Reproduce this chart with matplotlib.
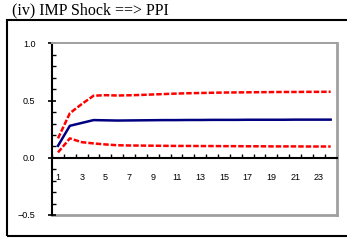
import matplotlib
matplotlib.use('Agg')
import matplotlib.pyplot as plt
from matplotlib.patches import Rectangle
from matplotlib.ticker import MultipleLocator, FixedLocator, FixedFormatter

# impulse response of PPI to IMP shock, periods 1..24
periods = list(range(1, 25))
response = [0.105, 0.28, 0.305, 0.33, 0.328, 0.326, 0.327, 0.328, 0.329, 0.33,
            0.33, 0.331, 0.331, 0.332, 0.332, 0.332, 0.333, 0.333, 0.333, 0.333,
            0.334, 0.334, 0.334, 0.334]
upper = [0.17, 0.39, 0.47, 0.543, 0.548, 0.545, 0.547, 0.55, 0.554, 0.558,
         0.562, 0.565, 0.567, 0.569, 0.571, 0.572, 0.573, 0.574, 0.575, 0.576,
         0.576, 0.577, 0.577, 0.578]
lower = [0.047, 0.17, 0.137, 0.126, 0.117, 0.11, 0.108, 0.107, 0.106, 0.105,
         0.104, 0.104, 0.103, 0.103, 0.102, 0.102, 0.101, 0.101, 0.1, 0.1,
         0.1, 0.099, 0.099, 0.099]
xlabels = [str(p) if p % 2 == 1 else '' for p in periods]
title = '(iv) IMP Shock ==> PPI'

plt.rcParams['font.family'] = ['Liberation Sans', 'DejaVu Sans']

fig = plt.figure(figsize=(3.47, 2.40), dpi=100)
ax = fig.add_axes([0.150, 0.1042, 0.820, 0.7146])

ax.plot(periods, upper, color='#ff0000', lw=1.8, ls=(0, (2.2, 0.8)))
ax.plot(periods, lower, color='#ff0000', lw=1.8, ls=(0, (2.2, 0.8)))
ax.plot(periods, response, color='#000080', lw=1.8)

ax.set_xlim(0.5, 24.5)
ax.set_ylim(-0.5, 1.0)

# frame: gray box, black y axis, x axis at zero
ax.spines['top'].set_color('#a0a0a0')
ax.spines['top'].set_linewidth(1.4)
ax.spines['right'].set_color('#a0a0a0')
ax.spines['right'].set_linewidth(2.0)
ax.spines['left'].set_color('black')
ax.spines['left'].set_linewidth(1.5)
ax.spines['bottom'].set_position(('data', 0))
ax.spines['bottom'].set_color('black')
ax.spines['bottom'].set_linewidth(1.5)
ax.axhline(-0.5, color='#a0a0a0', lw=2.0, clip_on=False, zorder=1)
ax.set_zorder(2)

ax.yaxis.set_major_locator(FixedLocator([-0.5, 0.0, 0.5, 1.0]))
ax.yaxis.set_major_formatter(FixedFormatter(['\u22120.5', '0.0', '0.5', '1.0']))
ax.yaxis.set_minor_locator(MultipleLocator(0.1))
ax.tick_params(axis='y', which='major', direction='inout', length=6, width=1.2,
               labelsize=6.5, pad=9)
ax.tick_params(axis='y', which='minor', direction='in', length=3, width=1)

ax.xaxis.set_major_locator(FixedLocator(periods))
ax.xaxis.set_major_formatter(FixedFormatter(xlabels))
ax.xaxis.set_minor_locator(MultipleLocator(1, offset=0.5))
ax.tick_params(axis='x', which='major', length=0, labelsize=6.5, pad=11)
ax.tick_params(axis='x', which='minor', direction='in', length=3, width=1)

# outer border and title
fig.add_artist(Rectangle((0.020, 0.0167), 1.2, 0.90, transform=fig.transFigure,
                         fill=False, edgecolor='black', lw=1.5))
fig.text(0.035, 0.94, title, fontfamily='Liberation Serif', fontsize=11.5,
         va='baseline', ha='left')

fig.savefig('out.png', dpi=100)
